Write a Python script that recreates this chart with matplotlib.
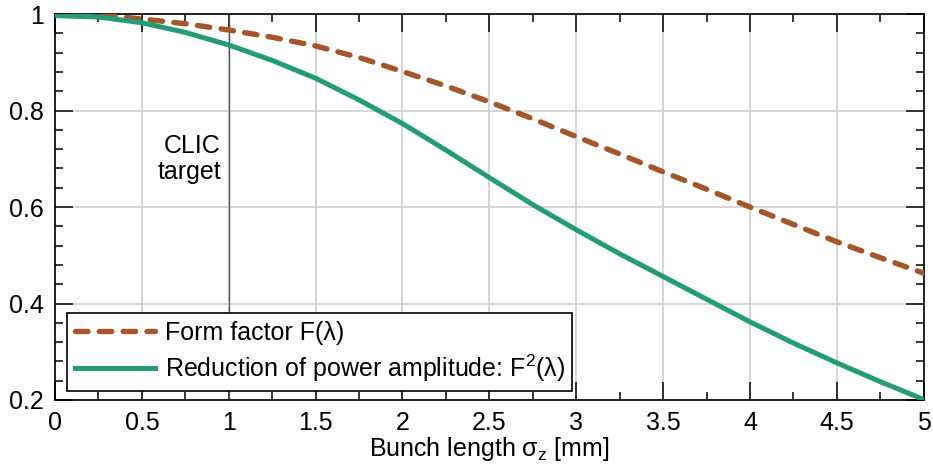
import matplotlib
matplotlib.use("Agg")
import matplotlib.pyplot as plt
from matplotlib.ticker import MultipleLocator, FuncFormatter

plt.rcParams['font.family'] = ['Liberation Sans', 'DejaVu Sans']
plt.rcParams['mathtext.default'] = 'regular'

# bunch length in mm
sigma_z = [0.0, 0.25, 0.5, 0.75, 1.0, 1.25, 1.5, 1.75, 2.0, 2.25, 2.5,
           2.75, 3.0, 3.25, 3.5, 3.75, 4.0, 4.25, 4.5, 4.75, 5.0]
# form factor F(lambda)
form_factor = [1.000, 0.998, 0.990, 0.980, 0.967, 0.952, 0.934, 0.910, 0.881,
               0.851, 0.818, 0.783, 0.746, 0.710, 0.673, 0.637, 0.600, 0.564,
               0.528, 0.495, 0.463]
# reduction of power amplitude F^2(lambda)
power_red = [0.997, 0.994, 0.982, 0.962, 0.936, 0.904, 0.867, 0.822, 0.773,
             0.718, 0.661, 0.605, 0.553, 0.503, 0.456, 0.409, 0.362, 0.318,
             0.277, 0.238, 0.201]

clic_target = 1.0

fig = plt.figure(figsize=(9.33, 4.70), dpi=100)
ax = fig.add_axes([0.059, 0.149, 0.931, 0.821])

ax.grid(True, which='major', color='#cccccc', linewidth=1.1, zorder=0)
ax.axvline(clic_target, color='#555555', linewidth=1.0, zorder=2)
ax.text(0.955, 0.70, "CLIC\ntarget", ha='right', va='center', fontsize=18,
        linespacing=1.1)

ax.plot(sigma_z, form_factor, color='#a65628', linewidth=3.9,
        linestyle=(0, (2.3, 2.1)), dash_capstyle='round',
        label="Form factor F(λ)", zorder=3)
ax.plot(sigma_z, power_red, color='#229d76', linewidth=3.6,
        label="Reduction of power amplitude: F$^2$(λ)", zorder=3)

ax.set_xlim(0, 5)
ax.set_ylim(0.2, 1.0)
ax.xaxis.set_major_locator(MultipleLocator(0.5))
ax.xaxis.set_minor_locator(MultipleLocator(0.25))
ax.yaxis.set_major_locator(MultipleLocator(0.2))
ax.yaxis.set_minor_locator(MultipleLocator(0.04))
fmt = FuncFormatter(lambda v, p: "%g" % round(v, 3))
ax.xaxis.set_major_formatter(fmt)
ax.yaxis.set_major_formatter(fmt)

ax.tick_params(which='both', direction='in', top=True, right=True,
               width=1.1, labelsize=18, pad=8)
ax.tick_params(which='major', length=13)
ax.tick_params(which='minor', length=6)
for s in ax.spines.values():
    s.set_linewidth(1.2)

ax.set_xlabel(r"Bunch length σ$_z$ [mm]", fontsize=18, labelpad=0)

leg = ax.legend(loc='lower left', bbox_to_anchor=(0.0138, 0.023),
                borderaxespad=0, fontsize=18, fancybox=False,
                edgecolor='black', framealpha=1, handlelength=3.2,
                handletextpad=0.4, labelspacing=0.3, borderpad=0.3)
leg.get_frame().set_linewidth(1.2)

fig.savefig("out.png", dpi=100)
